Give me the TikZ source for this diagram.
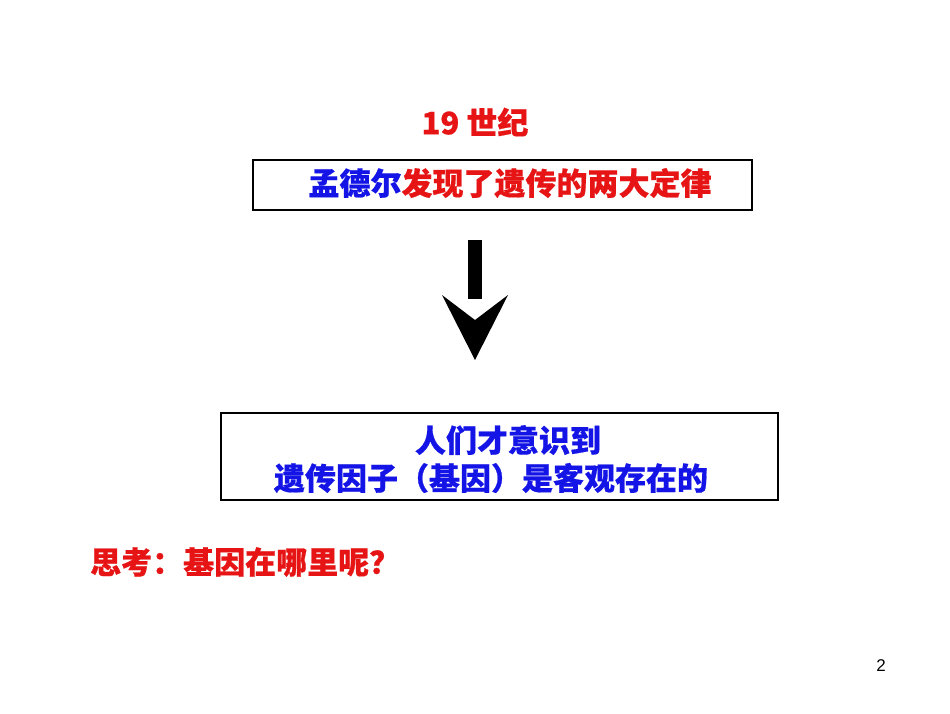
\documentclass[tikz,border=0pt]{standalone}
\usepackage{fontspec}
\setmainfont{Liberation Sans}
\newfontfamily\cjk[FakeBold=0.6]{Noto Sans CJK SC}
\definecolor{tblue}{RGB}{20,20,230}
\definecolor{tred}{RGB}{230,20,20}
\tikzset{box/.style={draw=black,line width=2.2pt},txt/.style={font=\cjk\bfseries\fontsize{31}{36}\selectfont,inner sep=0pt}}
\begin{document}
\begin{tikzpicture}[x=1pt,y=-1pt]
\useasboundingbox (0,0) rectangle (950,713);
\node[txt,text=tred] (t19) at (475,122) {19 世纪};
\draw[box] (253,160) rectangle (752,210);
\node[txt] (l1) at (510,183) {\textcolor{tblue}{孟德尔}\textcolor{tred}{发现了遗传的两大定律}};
\fill (468,240) rectangle (482,299);
\fill (442,295) -- (475,320) -- (508,295) -- (475,360) -- cycle;
\draw[box] (221,413) rectangle (778,500);
\node[txt,text=tblue] (l2) at (508,440) {人们才意识到};
\node[txt,text=tblue] (l3) at (491,478) {遗传因子（基因）是客观存在的};
\node[txt,text=tred,anchor=west] (q) at (90,562) {思考：基因在哪里呢？};
\node[font=\fontsize{17}{19}\selectfont] (p) at (881,666) {2};
\end{tikzpicture}
\end{document}
